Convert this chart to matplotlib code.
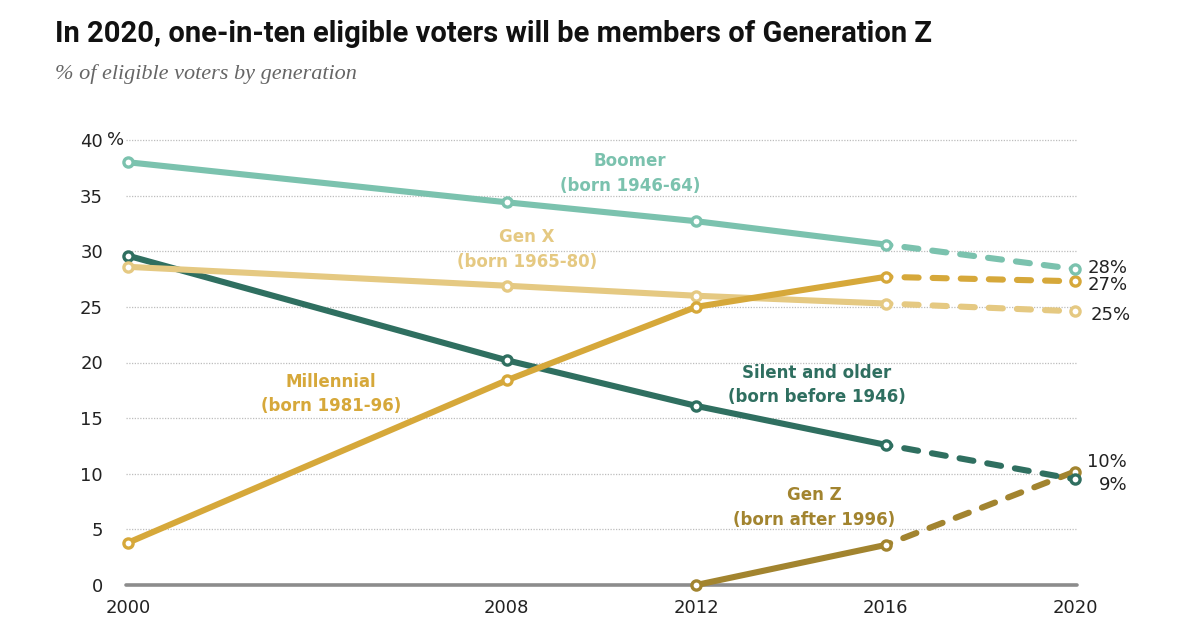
import matplotlib
matplotlib.use("Agg")
import matplotlib.pyplot as plt
from matplotlib import font_manager

years = [2000, 2008, 2012, 2016, 2020]
boomer = [38.0, 34.4, 32.7, 30.6, 28.4]
genx = [28.6, 26.9, 26.0, 25.3, 24.6]
millennial = [3.8, 18.4, 25.0, 27.7, 27.3]
silent = [29.6, 20.2, 16.1, 12.6, 9.5]
genz_years = [2012, 2016, 2020]
genz = [0.0, 3.6, 10.2]

yticks = [0, 5, 10, 15, 20, 25, 30, 35, 40]
ytick_labels = ["0", "5", "10", "15", "20", "25", "30", "35", "40"]
xticks = [2000, 2008, 2012, 2016, 2020]

names = {f.name for f in font_manager.fontManager.ttflist}
title_font = "Liberation Sans Narrow" if "Liberation Sans Narrow" in names else "Roboto"

C_BOOM = "#7bc2ae"
C_GENX = "#e5c982"
C_MILL = "#d6a83a"
C_SIL = "#2f6f60"
C_GENZ = "#a2842f"

fig = plt.figure(figsize=(12, 6.31), dpi=100)
ax = fig.add_axes([128/1200, 1-585/631, (1075-128)/1200, (585-140)/631])
ax.set_xlim(2000, 2020)
ax.set_ylim(0, 40)

for y in yticks[1:]:
    ax.plot([1999.95, 2020.05], [y, y], color="#bdbdbd", lw=0.9, ls=(0, (1, 1.2)),
            zorder=0, clip_on=False)
ax.plot([1999.95, 2020.05], [0, 0], color="#8c8c8c", lw=2.6, zorder=1, clip_on=False,
        solid_capstyle="round")

LW = 4.4
def series(xs, ys, color, z):
    ax.plot(xs[:-1], ys[:-1], color=color, lw=LW, solid_capstyle="round", zorder=z, clip_on=False)
    ax.plot(xs[-2:], ys[-2:], color=color, lw=LW, ls=(1.5, (2.3, 2.3)), dash_capstyle="round",
            zorder=z, clip_on=False)
    ax.plot(xs, ys, ls="none", marker="o", ms=6.6, mfc="white", mec=color, mew=2.4,
            zorder=z + 0.5, clip_on=False)

series(genz_years, genz, C_GENZ, 2)
series(years, silent, C_SIL, 3)
series(years, genx, C_GENX, 4)
series(years, millennial, C_MILL, 5)
series(years, boomer, C_BOOM, 6)

for s in ax.spines.values():
    s.set_visible(False)
ax.set_xticks(xticks)
ax.set_xticklabels([str(x) for x in xticks], fontsize=13, color="#222222")
ax.set_yticks(yticks)
ax.set_yticklabels(ytick_labels, fontsize=13, color="#222222")
ax.tick_params(length=0)
ax.tick_params(axis="y", pad=18)
ax.tick_params(axis="x", pad=10)
fig.text(107/1200, 1-140/631, "%", fontsize=13, color="#222222", ha="left", va="center")

fig.text(55/1200, 1-34/631, "In 2020, one-in-ten eligible voters will be members of Generation Z",
         fontsize=21, fontweight="bold", family=title_font, color="#111111", va="center")
fig.text(55/1200, 1-74/631, "% of eligible voters by generation", fontsize=16, style="italic",
         family="Liberation Serif", color="#666666", va="center")

lab = dict(fontsize=12, fontweight="bold", ha="center", va="center", linespacing=1.45)
def px2x(px):
    return 2000 + (px - 128) / (1075 - 128) * 20
def px2y(py):
    return (585 - py) / (585 - 140) * 40

ax.text(px2x(630), px2y(173.5), "Boomer\n(born 1946-64)", color=C_BOOM, **lab)
ax.text(px2x(527), px2y(249.5), "Gen X\n(born 1965-80)", color=C_GENX, **lab)
ax.text(px2x(331), px2y(394), "Millennial\n(born 1981-96)", color=C_MILL, **lab)
ax.text(px2x(817), px2y(385), "Silent and older\n(born before 1946)", color=C_SIL, **lab)
ax.text(px2x(814), px2y(507.5), "Gen Z\n(born after 1996)", color=C_GENZ, **lab)

rl = dict(fontsize=13, color="#222222", va="center")
ax.text(px2x(1088), px2y(268), "28%", ha="left", **rl)
ax.text(px2x(1088), px2y(285), "27%", ha="left", **rl)
ax.text(px2x(1091), px2y(315), "25%", ha="left", **rl)
ax.text(px2x(1127), px2y(462), "10%", ha="right", **rl)
ax.text(px2x(1127), px2y(485), "9%", ha="right", **rl)

fig.savefig("out.png", dpi=100, facecolor="white")
